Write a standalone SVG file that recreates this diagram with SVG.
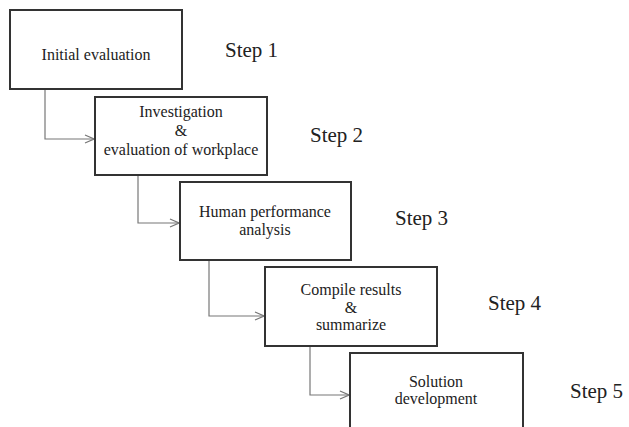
<svg xmlns="http://www.w3.org/2000/svg" width="629" height="427" viewBox="0 0 629 427">
<style>
.box{fill:#fff;stroke:#333;stroke-width:2}
.t{font-family:"Liberation Serif","DejaVu Serif",serif;font-size:16px;fill:#222;text-anchor:middle}
.s{font-family:"Liberation Serif","DejaVu Serif",serif;font-size:21px;fill:#222}
.c{fill:none;stroke:#777;stroke-width:1.2}
</style>
<defs>
<marker id="ah" viewBox="0 0 10 10" refX="10" refY="5" markerWidth="10" markerHeight="10" markerUnits="userSpaceOnUse" orient="auto">
<path d="M1,1 L10,5 L1,9" fill="none" stroke="#777" stroke-width="1.2"/>
</marker>
</defs>
<rect width="629" height="427" fill="#fff"/>
<g id="connectors">
<path class="c" d="M45,89 V139 H94" marker-end="url(#ah)"/>
<path class="c" d="M138,175 V223 H179" marker-end="url(#ah)"/>
<path class="c" d="M209,260 V316 H264" marker-end="url(#ah)"/>
<path class="c" d="M310,346 V395 H349" marker-end="url(#ah)"/>
</g>
<g id="node1">
<rect class="box" x="10" y="10" width="172" height="79"/>
<text class="t" x="96" y="60">Initial evaluation</text>
</g>
<g id="node2">
<rect class="box" x="95" y="97" width="172" height="78"/>
<text class="t" x="181" y="117">Investigation</text>
<text class="t" x="181" y="136">&amp;</text>
<text class="t" x="181" y="155">evaluation of workplace</text>
</g>
<g id="node3">
<rect class="box" x="180" y="182" width="171" height="78"/>
<text class="t" x="265" y="217">Human performance</text>
<text class="t" x="265" y="235">analysis</text>
</g>
<g id="node4">
<rect class="box" x="265" y="267" width="172" height="79"/>
<text class="t" x="351" y="295">Compile results</text>
<text class="t" x="351" y="313">&amp;</text>
<text class="t" x="351" y="330">summarize</text>
</g>
<g id="node5">
<rect class="box" x="350" y="353" width="173" height="80"/>
<text class="t" x="436" y="387">Solution</text>
<text class="t" x="436" y="404">development</text>
</g>
<g id="labels">
<text class="s" x="225" y="57">Step 1</text>
<text class="s" x="310" y="142">Step 2</text>
<text class="s" x="395" y="225">Step 3</text>
<text class="s" x="488" y="310">Step 4</text>
<text class="s" x="570" y="398">Step 5</text>
</g>
</svg>
